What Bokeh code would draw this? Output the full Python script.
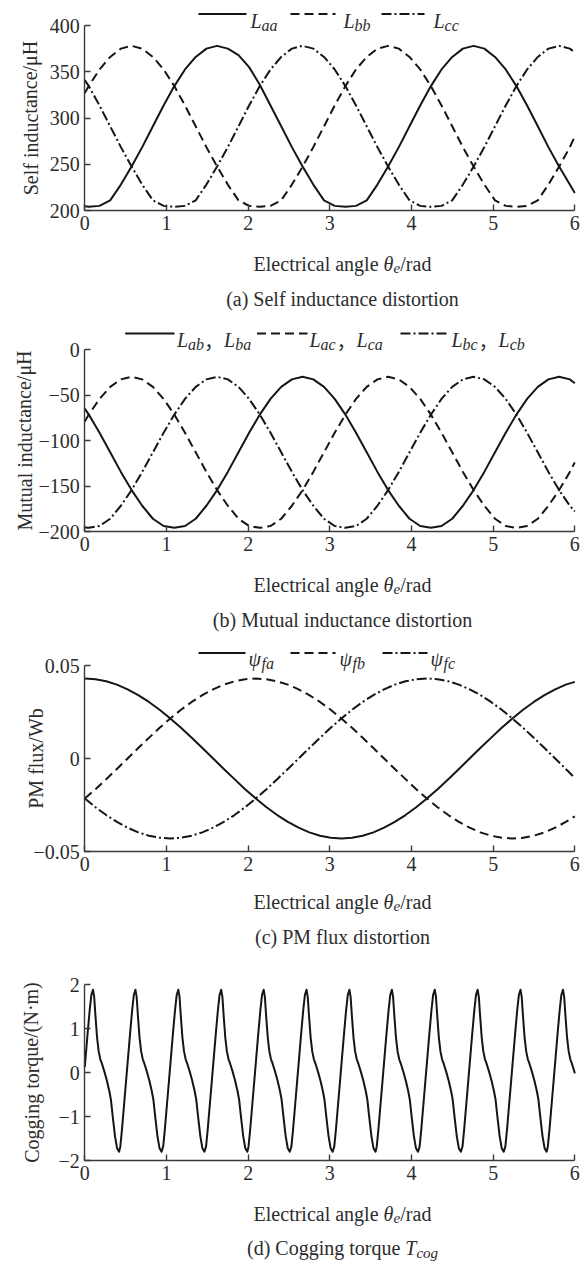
from bokeh.plotting import figure
from bokeh.models import Range1d, FixedTicker, Label, Arrow
from bokeh.layouts import column
from bokeh.embed import file_html
from bokeh.resources import INLINE

# ---------------- data ----------------
x_ticks = [0, 1, 2, 3, 4, 5, 6]

# shared angle grid for panels (a) and (b)
theta_ab = [0.0, 0.049, 0.180, 0.311, 0.442, 0.573, 0.703, 0.834, 0.965, 1.096, 1.227, 1.358,
            1.489, 1.620, 1.751, 1.882, 2.012, 2.143, 2.274, 2.405, 2.536, 2.667, 2.798, 2.929,
            3.060, 3.191, 3.321, 3.452, 3.583, 3.714, 3.845, 3.976, 4.107, 4.238, 4.368, 4.499,
            4.630, 4.761, 4.892, 5.023, 5.154, 5.285, 5.416, 5.547, 5.677, 5.808, 5.939, 6.0]

# (a) self inductance, uH
L_aa = [204.5, 204, 205, 211, 228, 247.5, 268.5, 291, 313.5, 334.5, 352.5, 366, 375, 378, 375, 368,
        355, 336, 313.5, 291, 268.5, 247.5, 228, 211, 205, 204, 205, 211, 228, 247.5, 268.5, 291,
        313.5, 334.5, 352.5, 366, 375, 378, 375, 366, 352.5, 334.5, 313.5, 291, 268.5, 247.5, 228, 219]
L_bb = [327, 334.5, 352.5, 366, 375, 378, 375, 366, 352.5, 334.5, 313.5, 291, 268.5, 247.5, 228, 211,
        205, 204, 205, 211, 228, 247.5, 268.5, 291, 313.5, 334.5, 352.5, 366, 375, 378, 375, 366,
        352.5, 334.5, 313.5, 291, 268.5, 247.5, 228, 211, 205, 204, 205, 211, 228, 247.5, 268.5, 280]
L_cc = [341, 334.5, 313.5, 291, 268.5, 247.5, 228, 211, 205, 204, 205, 211, 228, 247.5, 268.5, 291,
        313.5, 334.5, 352.5, 366, 375, 378, 375, 366, 352.5, 334.5, 313.5, 291, 268.5, 247.5, 228, 211,
        205, 204, 205, 211, 228, 247.5, 268.5, 291, 313.5, 334.5, 352.5, 366, 375, 378, 375, 371]

# (b) mutual inductance, uH
L_ab = [-65, -71.5, -91.5, -113, -134.5, -154.5, -171.7, -186, -194, -196, -194, -186, -171.7, -154.5,
        -134.5, -113, -91.5, -71.5, -54.3, -41.1, -32.8, -30, -32.8, -41.1, -54.3, -71.5, -91.5, -113,
        -134.5, -154.5, -171.7, -186, -194, -196, -194, -186, -171.7, -154.5, -134.5, -113, -91.5,
        -71.5, -54.3, -41.1, -32.8, -30, -32.8, -37]
L_ac = [-79, -71.5, -54.3, -41.1, -32.8, -30, -32.8, -41.1, -54.3, -71.5, -91.5, -113, -134.5, -154.5,
        -171.7, -186, -194, -196, -194, -186, -171.7, -154.5, -134.5, -113, -91.5, -71.5, -54.3, -41.1,
        -32.8, -30, -32.8, -41.1, -54.3, -71.5, -91.5, -113, -134.5, -154.5, -171.7, -186, -194, -196,
        -194, -186, -171.7, -154.5, -134.5, -124]
L_bc = [-195.5, -196, -194, -186, -171.7, -154.5, -134.5, -113, -91.5, -71.5, -54.3, -41.1, -32.8, -30,
        -32.8, -41.1, -54.3, -71.5, -91.5, -113, -134.5, -154.5, -171.7, -186, -194, -196, -194, -186,
        -171.7, -154.5, -134.5, -113, -91.5, -71.5, -54.3, -41.1, -32.8, -30, -32.8, -41.1, -54.3,
        -71.5, -91.5, -113, -134.5, -154.5, -171.7, -178]

# (c) PM flux, Wb
theta_c = [0.000, 0.131, 0.262, 0.393, 0.524, 0.654, 0.785, 0.916, 1.047, 1.178, 1.309, 1.440, 1.571,
           1.702, 1.833, 1.963, 2.094, 2.225, 2.356, 2.487, 2.618, 2.749, 2.880, 3.011, 3.142, 3.272,
           3.403, 3.534, 3.665, 3.796, 3.927, 4.058, 4.189, 4.320, 4.451, 4.581, 4.712, 4.843, 4.974,
           5.105, 5.236, 5.367, 5.498, 5.629, 5.760, 5.890, 6.0]
psi_fa = [0.0430, 0.0426, 0.0415, 0.0397, 0.0372, 0.0341, 0.0304, 0.0262, 0.0215, 0.0165, 0.0111, 0.0056,
          0.0, -0.0056, -0.0111, -0.0165, -0.0215, -0.0262, -0.0304, -0.0341, -0.0372, -0.0397, -0.0415,
          -0.0426, -0.0430, -0.0426, -0.0415, -0.0397, -0.0372, -0.0341, -0.0304, -0.0262, -0.0215,
          -0.0165, -0.0111, -0.0056, 0.0, 0.0056, 0.0111, 0.0165, 0.0215, 0.0262, 0.0304, 0.0341, 0.0372,
          0.0397, 0.0412]
psi_fb = [-0.0215, -0.0165, -0.0111, -0.0056, 0.0, 0.0056, 0.0111, 0.0165, 0.0215, 0.0262, 0.0304, 0.0341,
          0.0372, 0.0397, 0.0415, 0.0426, 0.0430, 0.0426, 0.0415, 0.0397, 0.0372, 0.0341, 0.0304, 0.0262,
          0.0215, 0.0165, 0.0111, 0.0056, 0.0, -0.0056, -0.0111, -0.0165, -0.0215, -0.0262, -0.0304,
          -0.0341, -0.0372, -0.0397, -0.0415, -0.0426, -0.0430, -0.0426, -0.0415, -0.0397, -0.0372,
          -0.0341, -0.0311]
psi_fc = [-0.0215, -0.0262, -0.0304, -0.0341, -0.0372, -0.0397, -0.0415, -0.0426, -0.0430, -0.0426, -0.0415,
          -0.0397, -0.0372, -0.0341, -0.0304, -0.0262, -0.0215, -0.0165, -0.0111, -0.0056, 0.0, 0.0056,
          0.0111, 0.0165, 0.0215, 0.0262, 0.0304, 0.0341, 0.0372, 0.0397, 0.0415, 0.0426, 0.0430, 0.0426,
          0.0415, 0.0397, 0.0372, 0.0341, 0.0304, 0.0262, 0.0215, 0.0165, 0.0111, 0.0056, 0.0, -0.0056,
          -0.0104]

# (d) cogging torque, N*m : read peak positions and one read cycle shape
cog_peaks = [0.10, 0.62, 1.145, 1.67, 2.19, 2.715, 3.24, 3.76, 4.285, 4.81, 5.335, 5.855]
cog_dt = [-0.185, -0.165, -0.14, -0.115, -0.09, -0.065, -0.04, -0.02, 0.0, 0.015, 0.03, 0.05, 0.07,
          0.09, 0.11, 0.14, 0.17, 0.20, 0.22, 0.245, 0.27, 0.295, 0.32]
cog_shape = [-1.68, -1.30, -0.75, -0.20, 0.35, 0.90, 1.42, 1.76, 1.88, 1.72, 1.30, 0.80, 0.48,
             0.30, 0.20, 0.02, -0.18, -0.42, -0.62, -1.05, -1.45, -1.72, -1.80]
cog_start = (0.0, 0.12)
cog_end = (6.0, -0.02)

cog_x = [cog_start[0]]
cog_y = [cog_start[1]]
for pk in cog_peaks:
    for dt, v in zip(cog_dt, cog_shape):
        xv = round(pk + dt, 4)
        if 0.0 < xv < 6.0:
            cog_x.append(xv)
            cog_y.append(v)
cog_x.append(cog_end[0])
cog_y.append(cog_end[1])

# ---------------- styling / layout (page pixels) ----------------
FONT = "Liberation Serif"
CJK = "Noto Sans CJK SC"
TXT = "#2c2c2c"
INK = "#151515"
AXC = "#3a3a3a"
DASH = "9 5"
DDOT = "10 3 2 3"
W = 587
AX_L, AX_R = 84.3, 574.3   # page x of theta = 0 and theta = 6


class Panel:
    def __init__(self, top, height, frame_top, frame_bottom, ymin, ymax, yticks, ylabels):
        self.top, self.h = top, height
        sx = (AX_R - AX_L) / 6.0
        x0 = 0 - AX_L / sx
        x1 = 6 + (W - AX_R) / sx
        t = frame_top - top
        b = frame_bottom - top
        sy = (b - t) / (ymax - ymin)
        y1 = ymax + t / sy
        y0 = ymin - (height - b) / sy
        p = figure(width=W, height=height, x_range=Range1d(x0, x1), y_range=Range1d(y0, y1),
                   output_backend="svg", toolbar_location=None,
                   min_border_left=0, min_border_right=0, min_border_top=0, min_border_bottom=0)
        p.outline_line_color = None
        p.xgrid.visible = False
        p.ygrid.visible = False
        for ax in (p.xaxis[0], p.yaxis[0]):
            ax.major_tick_in = 6
            ax.major_tick_out = 0
            ax.minor_tick_line_color = None
            ax.axis_line_color = AXC
            ax.axis_line_width = 1.4
            ax.major_tick_line_color = AXC
            ax.major_tick_line_width = 1.4
            ax.major_label_text_font = FONT
            ax.major_label_text_font_size = "20px"
            ax.major_label_text_color = TXT
            ax.major_label_standoff = 5
        p.xaxis.fixed_location = ymin
        p.xaxis.bounds = (0, 6)
        p.yaxis.fixed_location = 0
        p.yaxis.bounds = (ymin, ymax)
        p.xaxis.ticker = FixedTicker(ticks=x_ticks)
        p.yaxis.ticker = FixedTicker(ticks=yticks)
        p.yaxis.major_label_overrides = dict(zip(yticks, ylabels))
        self.p = p

    def sy(self, py):
        return self.top + self.h - py

    def txt(self, px, py, s, size=20, italic=False, align="left", baseline="alphabetic",
            angle=0.0, font=FONT):
        self.p.add_layout(Label(x=px, y=self.sy(py), x_units="screen", y_units="screen", text=s,
                                text_font=font, text_font_size=f"{size}px",
                                text_font_style="italic" if italic else "normal",
                                text_color=TXT, text_align=align, text_baseline=baseline,
                                angle=angle))

    def sample(self, x0, x1, py, dash):
        y = self.sy(py)
        self.p.add_layout(Arrow(end=None, x_start=x0, y_start=y, x_end=x1, y_end=y,
                                start_units="screen", end_units="screen",
                                line_color=INK, line_width=2, line_dash=dash))

    def curve(self, x, y, dash):
        self.p.line(x, y, line_color=INK, line_width=2, line_dash=dash, line_join="round")

    def xtitle(self, pyb):
        self.txt(253.1, pyb, "Electrical angle ")
        self.txt(383.1, pyb, "\u03b8", italic=True)
        self.txt(393.1, pyb + 4, "e", size=15, italic=True)
        self.txt(399.8, pyb, "/rad")

    def ytitle(self, px, py, s):
        self.txt(px, py, s, align="center", baseline="middle", angle=1.5708)


CAP_X = 342

# ---------------- (a) ----------------
A = Panel(0, 320, 25, 210, 200, 400, [200, 250, 300, 350, 400], ["200", "250", "300", "350", "400"])
A.curve(theta_ab, L_aa, "solid")
A.curve(theta_ab, L_bb, DASH)
A.curve(theta_ab, L_cc, DDOT)
for (x0, x1, dash), (lx, sub) in zip([(198, 246, "solid"), (290, 335, DASH), (381, 424, DDOT)],
                                     [(250, "aa"), (343, "bb"), (433, "cc")]):
    A.sample(x0, x1, 13.5, dash)
    A.txt(lx, 20, "L", italic=True)
    A.txt(lx + 11.1, 24.5, sub, size=16, italic=True)
A.ytitle(30, 117.5, "Self inductance/\u03bcH")
A.xtitle(263.5)
A.txt(CAP_X, 298.5, "(a) Self inductance distortion", align="center")

# ---------------- (b) ----------------
B = Panel(320, 320, 349, 531, -200, 0, [-200, -150, -100, -50, 0],
          ["\u2212200", "\u2212150", "\u2212100", "\u221250", "0"])
B.curve(theta_ab, L_ab, "solid")
B.curve(theta_ab, L_ac, DASH)
B.curve(theta_ab, L_bc, DDOT)
for (x0, x1, dash), (lx, s1, s2) in zip([(124.7, 174, "solid"), (256.5, 307, DASH), (400, 449, DDOT)],
                                        [(176.5, "ab", "ba"), (309, "ac", "ca"), (451, "bc", "cb")]):
    B.sample(x0, x1, 333, dash)
    B.txt(lx, 339.5, "L", italic=True)
    B.txt(lx + 11.1, 344, s1, size=16, italic=True)
    B.txt(lx + 27.1, 339.5, "\uff0c", font=CJK)
    B.txt(lx + 47.1, 339.5, "L", italic=True)
    B.txt(lx + 58.2, 344, s2, size=16, italic=True)
B.ytitle(24, 440, "Mutual inductance/\u03bcH")
B.xtitle(584)
B.txt(CAP_X, 619, "(b) Mutual inductance distortion", align="center")

# ---------------- (c) ----------------
C = Panel(640, 320, 665, 851, -0.05, 0.05, [-0.05, 0, 0.05], ["\u22120.05", "0", "0.05"])
C.curve(theta_c, psi_fa, "solid")
C.curve(theta_c, psi_fb, DASH)
C.curve(theta_c, psi_fc, DDOT)
for (x0, x1, dash), (lx, sub) in zip([(198, 245, "solid"), (290, 335, DASH), (382, 427, DDOT)],
                                     [(248, "fa"), (339, "fb"), (430, "fc")]):
    C.sample(x0, x1, 652.5, dash)
    C.txt(lx, 658, "\u03c8", italic=True)
    C.txt(lx + 13, 662.5, sub, size=16, italic=True)
C.ytitle(35.5, 758, "PM flux/Wb")
C.xtitle(901)
C.txt(CAP_X, 936, "(c) PM flux distortion", align="center")

# ---------------- (d) ----------------
D = Panel(960, 305, 984, 1160, -2, 2, [-2, -1, 0, 1, 2], ["\u22122", "\u22121", "0", "1", "2"])
D.curve(cog_x, cog_y, "solid")
D.ytitle(31, 1072, "Cogging torque/(N\u00b7m)")
D.xtitle(1213)
D.txt(246.5, 1247, "(d) Cogging torque ")
D.txt(404.8, 1247, "T", italic=True)
D.txt(415.9, 1252, "cog", size=15, italic=True)

layout = column(A.p, B.p, C.p, D.p)
open("out.html", "w").write(file_html(layout, INLINE))
